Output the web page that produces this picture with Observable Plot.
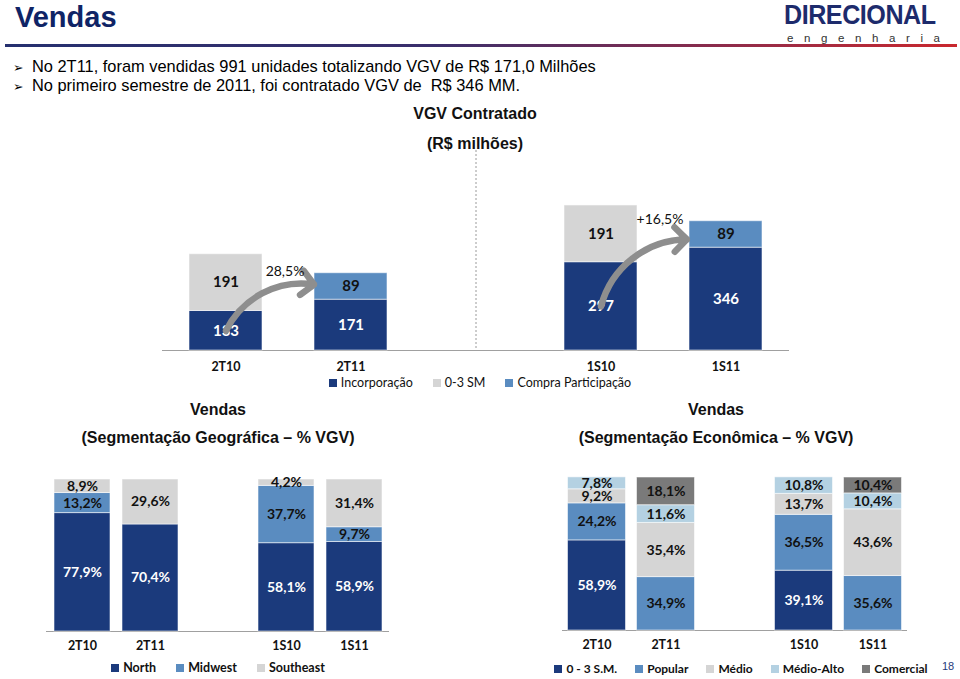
<!DOCTYPE html>
<html>
<head>
<meta charset="utf-8">
<script src="https://cdn.jsdelivr.net/npm/d3@7"></script>
<script src="https://cdn.jsdelivr.net/npm/@observablehq/plot@0.6"></script>
<style>
  html, body { margin: 0; padding: 0; }
  body { width: 960px; height: 679px; position: relative; overflow: hidden; background: #fff;
         font-family: "Liberation Sans", Arial, sans-serif; color: #000; }
  .abs { position: absolute; white-space: nowrap; }
  .ctr { text-align: center; }
  .hdr { left: 15px; top: 1px; font-size: 29px; font-weight: bold; color: #0f2466; }
  .rule { left: 5px; top: 44px; width: 952px; height: 3px;
          background: linear-gradient(to right, #25306f 0%, #3a2f6c 45%, #9a2b45 80%, #c9282e 100%); }
  .logo { left: 784px; top: 2px; font-size: 27px; font-weight: bold; color: #1d2b6c; letter-spacing: -0.5px;
          transform: scaleX(0.93); transform-origin: 0 0; line-height: 26px; height: 26px; }
  .logo2 { left: 787px; top: 32px; font-size: 11.5px; letter-spacing: 10.6px; color: #333; line-height: 12px; }
  .bul { left: 13px; font-size: 16.4px; }
  .bul span { display: inline-block; width: 19px; font-size: 12.5px; font-family: "DejaVu Sans", sans-serif; }
  .ttl { font-size: 16px; font-weight: bold; color: #111; }
  .pg { left: 942px; top: 660px; font-size: 11px; color: #1f3a7a; }
  .lg { display: flex; justify-content: center; }
  .lg span { margin-right: 20px !important; }
  .lg span:last-child { margin-right: 0 !important; }
  .lg span svg { margin-right: 4px !important; }
  #lgEco span { margin-right: 18px !important; }
  #lgEco span:last-child { margin-right: 0 !important; }
</style>
</head>
<body>
<div class="abs hdr">Vendas</div>
<div class="abs rule"></div>
<div class="abs logo">DIRECIONAL</div>
<div class="abs logo2">engenharia</div>
<div class="abs bul" style="top:57px"><span>&#10146;</span>No 2T11, foram vendidas 991 unidades totalizando VGV de R$ 171,0 Milhões</div>
<div class="abs bul" style="top:76px"><span>&#10146;</span>No primeiro semestre de 2011, foi contratado VGV de&nbsp; R$ 346 MM.</div>
<div class="abs ctr ttl" style="left:275px;width:400px;top:105px">VGV Contratado</div>
<div class="abs ctr ttl" style="left:275px;width:400px;top:135px">(R$ milhões)</div>
<div class="abs ctr ttl" style="left:18px;width:400px;top:401px">Vendas</div>
<div class="abs ctr ttl" style="left:18px;width:400px;top:429px">(Segmentação Geográfica – % VGV)</div>
<div class="abs ctr ttl" style="left:516px;width:400px;top:401px">Vendas</div>
<div class="abs ctr ttl" style="left:516px;width:400px;top:429px">(Segmentação Econômica – % VGV)</div>
<div class="abs pg">18</div>

<div id="top" class="abs" style="left:140px;top:150px"></div>
<div id="geo" class="abs" style="left:0px;top:460px"></div>
<div id="eco" class="abs" style="left:540px;top:460px"></div>
<div id="lgTop" class="abs lg" style="left:230px;width:500px;top:375px"></div>
<div id="lgGeo" class="abs lg" style="left:18px;width:400px;top:660px"></div>
<div id="lgEco" class="abs lg" style="left:521px;width:440px;top:661px"></div>

<script>
// ---------- data ----------
const periods = ["2T10", "2T11", "1S10", "1S11"];
const xDomain = ["2T10", "2T11", " ", "1S10", "1S11"]; // " " = gap between quarter and semester groups

// VGV Contratado (R$ milhões)
const vgvSeries = ["Incorporação", "0-3 SM", "Compra Participação"];
const vgvIncorporacao = [133, 171, 297, 346];
const vgv03SM = [191, 0, 191, 0];
const vgvCompra = [0, 89, 0, 89];
const vgvGrowthFrom = ["2T10", "1S10"];
const vgvGrowthTo = ["2T11", "1S11"];
const vgvGrowthLabel = ["28,5%", "+16,5%"];

// Segmentação Geográfica (% VGV)
const geoSeries = ["North", "Midwest", "Southeast"];
const geoNorth = [77.9, 70.4, 58.1, 58.9];
const geoMidwest = [13.2, 0, 37.7, 9.7];
const geoSoutheast = [8.9, 29.6, 4.2, 31.4];

// Segmentação Econômica (% VGV)
const ecoSeries = ["0 - 3 S.M.", "Popular", "Médio", "Médio-Alto", "Comercial"];
const eco03SM = [58.9, 0, 39.1, 0];
const ecoPopular = [24.2, 34.9, 36.5, 35.6];
const ecoMedio = [9.2, 35.4, 13.7, 43.6];
const ecoMedioAlto = [7.8, 11.6, 10.8, 10.4];
const ecoComercial = [0, 18.1, 0, 10.4];

// ---------- colours ----------
const NAVY = "#1b3a7c", BLUE = "#5a8cc0", LGRAY = "#d5d5d5", LBLUE = "#b4d1e2", DGRAY = "#7a7a7a";
const vgvColors = [NAVY, LGRAY, BLUE];
const geoColors = [NAVY, BLUE, LGRAY];
const ecoColors = [NAVY, BLUE, LGRAY, LBLUE, DGRAY];

// ---------- helpers ----------
function toRows(series, arrays) {
  const rows = [];
  periods.forEach((p, i) => series.forEach((s, j) => {
    if (arrays[j][i] > 0) rows.push({period: p, series: s, value: arrays[j][i]});
  }));
  return rows;
}
const pct = v => v.toFixed(1).replace(".", ",") + "%";
const LABEL_FONT = "Lato, 'Open Sans', sans-serif";

function stacked({rows, series, colors, darkSeries, fmt, width, height, mL, mR, mT, mB, yMax, inset, fontSize, tickPadding = 10, extra = []}) {
  const stackOpts = {x: "period", y: "value", z: "series", order: series};
  return Plot.plot({
    width, height, marginLeft: mL, marginRight: mR, marginTop: mT, marginBottom: mB,
    style: {fontFamily: LABEL_FONT, fontSize: "12.5px", fontWeight: "bold", color: "#111", background: "transparent", overflow: "visible"},
    x: {domain: xDomain, padding: 0, tickSize: 0, tickPadding, label: null, tickFormat: d => d.trim()},
    y: {domain: [0, yMax], axis: null},
    color: {domain: series, range: colors},
    marks: [
      ...extra.filter(m => m.under).map(m => m.mark),
      Plot.ruleY([0], {stroke: "#a0a0a0", strokeWidth: 1}),
      Plot.barY(rows, Plot.stackY({...stackOpts, fill: "series", insetLeft: inset, insetRight: inset,
        stroke: "#ffffff", strokeOpacity: 0.55, strokeWidth: 1})),
      Plot.text(rows, Plot.stackY({...stackOpts, text: d => d.series === darkSeries ? null : fmt(d.value),
        fill: "#111", fontSize, fontWeight: "bold", fontFamily: LABEL_FONT})),
      Plot.text(rows, Plot.stackY({...stackOpts, text: d => d.series === darkSeries ? fmt(d.value) : null,
        fill: "#ffffff", fontSize, fontWeight: "bold", fontFamily: LABEL_FONT})),
      ...extra.filter(m => !m.under).map(m => m.mark)
    ]
  });
}

function legend(series, colors, bold, size) {
  return Plot.legend({
    color: {domain: series, range: colors}, legend: "swatches", swatchSize: 8,
    style: {fontFamily: LABEL_FONT, fontSize: size, fontWeight: bold ? "bold" : "normal", color: "#111",
            minHeight: "0px", margin: "0px"}
  });
}

// ---------- top chart: VGV Contratado ----------
const vgvRows = toRows(vgvSeries, [vgvIncorporacao, vgv03SM, vgvCompra]);
const idx = p => periods.indexOf(p);
// growth arrows: from the middle of the earlier Incorporação segment to the top of the later one
const arrows = vgvGrowthFrom.map((f, k) => {
  const t = vgvGrowthTo[k];
  return {
    from: f, to: t, label: vgvGrowthLabel[k],
    y1: vgvIncorporacao[idx(f)] / 2,
    y2: vgvIncorporacao[idx(t)],
    total: vgvIncorporacao[idx(t)] + vgv03SM[idx(t)] + vgvCompra[idx(t)]
  };
});

const topChart = stacked({
  rows: vgvRows, series: vgvSeries, colors: vgvColors, darkSeries: "Incorporação", fmt: v => String(v),
  width: 680, height: 230, mL: 22, mR: 31, mT: 0, mB: 30, yMax: 673, inset: 26, fontSize: 15, tickPadding: 12,
  extra: [
    {under: true, mark: Plot.ruleX([" "], {stroke: "#9a9a9a", strokeDasharray: "2,2", strokeWidth: 1})},
    {under: false, mark: Plot.arrow(arrows, {x1: "from", y1: "y1", x2: "to", y2: "y2", bend: 50,
      stroke: "#8e8e8e", strokeWidth: 6.5, headLength: 4, headAngle: 90, insetEnd: 40, insetStart: 0})},
    {under: false, mark: Plot.text(arrows, {x: "to", y: "total", text: "label", dx: -66, dy: -2,
      fontSize: 14, fontWeight: "normal", fill: "#111", fontFamily: LABEL_FONT})}
  ]
});
document.getElementById("top").append(topChart);
document.getElementById("lgTop").append(legend(vgvSeries, vgvColors, false, "12.5px"));

// ---------- bottom left: Geográfica ----------
const geoChart = stacked({
  rows: toRows(geoSeries, [geoNorth, geoMidwest, geoSoutheast]), series: geoSeries, colors: geoColors,
  darkSeries: "North", fmt: pct,
  width: 420, height: 200, mL: 46, mR: 31, mT: 19, mB: 29, yMax: 100, inset: 6, fontSize: 14
});
document.getElementById("geo").append(geoChart);
document.getElementById("lgGeo").append(legend(geoSeries, geoColors, true, "12.5px"));

// ---------- bottom right: Econômica ----------
const ecoChart = stacked({
  rows: toRows(ecoSeries, [eco03SM, ecoPopular, ecoMedio, ecoMedioAlto, ecoComercial]), series: ecoSeries,
  colors: ecoColors, darkSeries: "0 - 3 S.M.", fmt: pct,
  width: 420, height: 200, mL: 22, mR: 53, mT: 17, mB: 30, yMax: 100, inset: 5.5, fontSize: 14
});
document.getElementById("eco").append(ecoChart);
document.getElementById("lgEco").append(legend(ecoSeries, ecoColors, true, "12px"));
</script>
</body>
</html>
